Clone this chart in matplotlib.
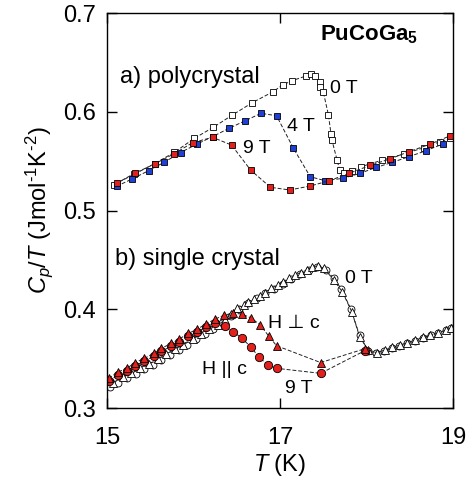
import matplotlib
matplotlib.use("Agg")
import matplotlib.pyplot as plt

plt.rcParams["font.family"] = ["Liberation Sans", "DejaVu Sans"]
plt.rcParams["mathtext.fontset"] = "custom"
plt.rcParams["mathtext.rm"] = "Liberation Sans"
plt.rcParams["mathtext.it"] = "Liberation Sans:italic"
plt.rcParams["mathtext.bf"] = "Liberation Sans:bold"

RED = "#e3201c"
BLUE = "#1f3fd6"

# --- a) polycrystal --------------------------------------------------------
poly_0T_T = [15.08, 15.31, 15.55, 15.78, 16.01, 16.23, 16.45, 16.68, 16.92,
             17.03, 17.14, 17.30, 17.36, 17.41, 17.46, 17.46, 17.50, 17.56,
             17.59, 17.60, 17.66, 17.69, 17.74, 17.83, 17.94, 18.18, 18.43,
             18.66, 18.85, 18.97]
poly_0T_C = [0.5262, 0.5365, 0.5475, 0.5590, 0.5731, 0.5843, 0.5967, 0.6092,
             0.6203, 0.6271, 0.6315, 0.6362, 0.6382, 0.6362, 0.6304, 0.6248,
             0.6203, 0.5967, 0.5775, 0.5714, 0.5511, 0.5410, 0.5383, 0.5400,
             0.5444, 0.5510, 0.5572, 0.5635, 0.5697, 0.5730]

poly_4T_T = [15.11, 15.29, 15.48, 15.66, 15.85, 16.04, 16.22, 16.41, 16.60,
             16.78, 16.96, 17.155, 17.35, 17.52, 17.73, 17.92, 18.11, 18.30,
             18.49, 18.69, 18.88]
poly_4T_C = [0.5245, 0.5319, 0.5403, 0.5488, 0.5587, 0.5673, 0.5748, 0.5832,
             0.5910, 0.5984, 0.5960, 0.5630, 0.5342, 0.5302, 0.5326, 0.5375,
             0.5436, 0.5488, 0.5545, 0.5606, 0.5673]

poly_9T_T = [15.11, 15.32, 15.55, 15.77, 15.99, 16.22, 16.44, 16.66, 16.89,
             17.11, 17.35, 17.57, 17.80, 18.04, 18.27, 18.49, 18.73, 18.96]
poly_9T_C = [0.5275, 0.5377, 0.5471, 0.5572, 0.5687, 0.5741, 0.5663, 0.5410,
             0.5235, 0.5208, 0.5248, 0.5302, 0.5377, 0.5456, 0.5522, 0.5596,
             0.5670, 0.5754]

# --- b) single crystal -----------------------------------------------------
sc_0T_tri_T = [15.07, 15.18, 15.28, 15.38, 15.48, 15.59, 15.68, 15.79, 15.88,
               15.99, 16.09, 16.18, 16.28, 16.36, 16.43, 16.50, 16.58, 16.63,
               16.70, 16.77, 16.83, 16.90, 16.98, 17.04, 17.10, 17.17, 17.24,
               17.31, 17.37, 17.44, 17.51, 17.62, 17.72, 17.83, 17.92, 18.02,
               18.12, 18.21, 18.30, 18.39, 18.47, 18.56, 18.65, 18.73, 18.83,
               18.92, 18.98]
sc_0T_tri_C = [0.3256, 0.3311, 0.3351, 0.3402, 0.3446, 0.3493, 0.3547, 0.3594,
               0.3638, 0.3696, 0.3749, 0.3797, 0.3840, 0.3890, 0.3950, 0.4010,
               0.4043, 0.4077, 0.4100, 0.4134, 0.4167, 0.4212, 0.4246, 0.4279,
               0.4313, 0.4347, 0.4370, 0.4397, 0.4431, 0.4438, 0.4415, 0.4296,
               0.4178, 0.3975, 0.3722, 0.3587, 0.3560, 0.3587, 0.3615, 0.3638,
               0.3661, 0.3689, 0.3716, 0.3739, 0.3762, 0.3790, 0.3813]

sc_0T_circ_T = [15.03, 15.13, 15.23, 15.33, 15.43, 15.53, 15.63, 15.73, 15.83,
                15.93, 16.03, 16.13, 16.23, 16.33, 16.43, 16.53, 16.63, 16.73,
                16.83, 16.93, 17.03, 17.13, 17.23, 17.33, 17.43, 17.53, 17.62,
                17.71, 17.82, 17.92, 18.02, 18.11, 18.20, 18.29, 18.38, 18.47,
                18.56, 18.65, 18.74, 18.83, 18.92, 18.98]
sc_0T_circ_C = [0.3215, 0.3255, 0.3300, 0.3345, 0.3390, 0.3440, 0.3490, 0.3540,
                0.3590, 0.3640, 0.3695, 0.3745, 0.3800, 0.3860, 0.3930, 0.4000,
                0.4060, 0.4115, 0.4160, 0.4205, 0.4260, 0.4310, 0.4355, 0.4400,
                0.4430, 0.4400, 0.4314, 0.4205, 0.4000, 0.3735, 0.3580, 0.3555,
                0.3580, 0.3605, 0.3630, 0.3655, 0.3682, 0.3708, 0.3735, 0.3760,
                0.3785, 0.3808]

sc_9T_perp_T = [15.02, 15.13, 15.23, 15.32, 15.43, 15.54, 15.63, 15.74, 15.83,
                15.94, 16.04, 16.14, 16.25, 16.35, 16.46, 16.56, 16.66, 16.77,
                16.87, 16.96, 17.47, 17.98]
sc_9T_perp_C = [0.3300, 0.3367, 0.3401, 0.3458, 0.3502, 0.3553, 0.3604, 0.3654,
                0.3695, 0.3756, 0.3796, 0.3850, 0.3900, 0.3939, 0.3962, 0.3950,
                0.3915, 0.3843, 0.3728, 0.3631, 0.3460, 0.3600]

sc_9T_par_T = [15.02, 15.13, 15.23, 15.32, 15.43, 15.54, 15.63, 15.74, 15.83,
               15.94, 16.04, 16.14, 16.25, 16.36, 16.46, 16.56, 16.66, 16.76,
               16.86, 16.96, 17.47, 17.98]
sc_9T_par_C = [0.3270, 0.3335, 0.3370, 0.3428, 0.3472, 0.3523, 0.3574, 0.3624,
               0.3665, 0.3726, 0.3766, 0.3820, 0.3865, 0.3830, 0.3773, 0.3706,
               0.3621, 0.3513, 0.3435, 0.3402, 0.3351, 0.3580]


fig = plt.figure(figsize=(4.73, 4.87), dpi=100)
ax = fig.add_axes([0.2262, 0.1622, 0.7315, 0.8111])

line_kw = dict(color="#222222", lw=0.7, ls=(0, (4, 2)), mec="black", mew=0.6)

ax.plot(poly_0T_T, poly_0T_C, marker="s", ms=5, mfc="white", **line_kw)
ax.plot(poly_4T_T, poly_4T_C, marker="s", ms=5, mfc=BLUE, **line_kw)
ax.plot(poly_9T_T, poly_9T_C, marker="s", ms=5, mfc=RED, **line_kw)

ax.plot(sc_0T_circ_T, sc_0T_circ_C, marker="o", ms=5, mfc="white", **line_kw)
ax.plot(sc_0T_tri_T, sc_0T_tri_C, marker="^", ms=5.5, mfc="white", **line_kw)
ax.plot(sc_9T_par_T, sc_9T_par_C, marker="o", ms=6, mfc=RED, **line_kw)
ax.plot(sc_9T_perp_T, sc_9T_perp_C, marker="^", ms=6, mfc=RED, **line_kw)

ax.set_xlim(15, 19)
ax.set_ylim(0.3, 0.7)
ax.set_xticks([15, 17, 19])
ax.set_yticks([0.3, 0.4, 0.5, 0.6, 0.7])
ax.set_yticklabels(["0.3", "0.4", "0.5", "0.6", "0.7"])
ax.tick_params(direction="in", top=True, right=True, length=7, width=1,
               labelsize=17)
ax.tick_params(axis="x", pad=14)
ax.tick_params(axis="y", pad=8)
for spine in ax.spines.values():
    spine.set_linewidth(1)

ax.set_xlabel(r"$T$ (K)", fontsize=17, labelpad=2)
ax.set_ylabel(r"$C_p/T$ (Jmol$^{\text{-}1}$K$^{\text{-}2}$)", fontsize=17,
              labelpad=6)

ax.text(18.6, 0.6777, r"PuCoGa$_\mathbf{5}$", fontsize=16, fontweight="bold",
        ha="right", va="center")
ax.text(15.15, 0.6291, "a) polycrystal", fontsize=17, va="baseline")
ax.text(17.58, 0.6187, "0 T", fontsize=14, va="baseline")
ax.text(17.085, 0.5808, "4 T", fontsize=14, va="baseline")
ax.text(16.576, 0.5579, "9 T", fontsize=14, va="baseline")

ax.text(15.09, 0.4448, "b) single crystal", fontsize=17, va="baseline")
ax.text(17.75, 0.4263, "0 T", fontsize=14, va="baseline")
ax.text(16.865, 0.3807, "H \u22a5 c", fontsize=14, va="baseline")
ax.text(16.095, 0.3344, "H || c", fontsize=14, va="baseline")
ax.text(17.058, 0.3149, "9 T", fontsize=14, va="baseline")

fig.savefig("out.png", dpi=100)
